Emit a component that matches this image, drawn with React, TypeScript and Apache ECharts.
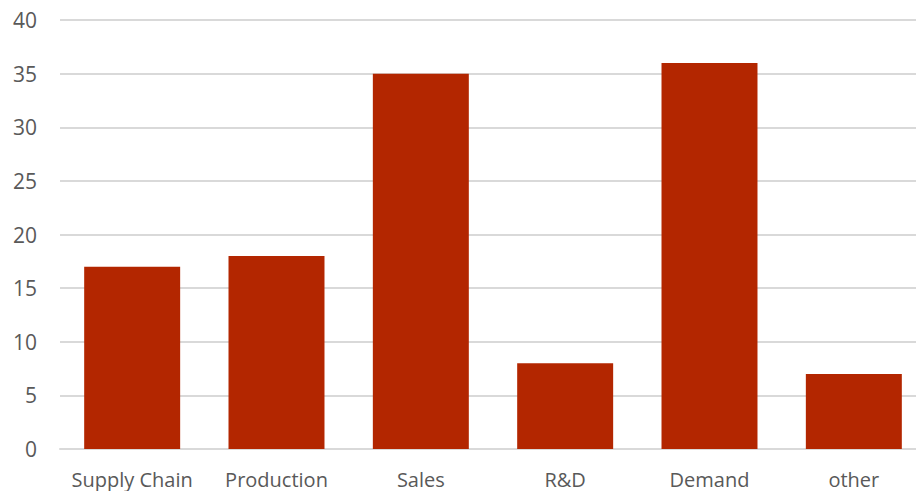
import React, { useEffect, useRef } from "react";
import * as echarts from "echarts";

const categories = ["Supply Chain", "Production", "Sales", "R&D", "Demand", "other"];
const values = [17, 18, 35, 8, 36, 7];
const yTicks = { min: 0, max: 40, interval: 5 };

export default function App() {
  const ref = useRef<HTMLDivElement>(null);
  useEffect(() => {
    const chart = echarts.init(ref.current!, null, { renderer: "svg" });
    chart.setOption({
      animation: false,
      backgroundColor: "#ffffff",
      grid: { left: 60, top: 20, right: 0, height: 429, containLabel: false },
      xAxis: {
        type: "category",
        data: categories,
        axisLine: { show: true, lineStyle: { color: "#d9d9d9", width: 2 } },
        axisTick: { show: false },
        axisLabel: { interval: 0, hideOverlap: false, color: "#595959", fontSize: 20, fontFamily: "Open Sans", margin: 20 },
      },
      yAxis: {
        type: "value",
        min: yTicks.min,
        max: yTicks.max,
        interval: yTicks.interval,
        axisLine: { show: false },
        axisTick: { show: false },
        splitLine: { lineStyle: { color: "#d9d9d9", width: 2 } },
        axisLabel: { color: "#595959", fontSize: 21, fontFamily: "Open Sans", margin: 23 },
      },
      series: [
        {
          type: "bar",
          data: values,
          barWidth: "66.5%",
          itemStyle: { color: "#b32600" },
        },
      ],
    });
    return () => chart.dispose();
  }, []);
  return (
    <div style={{ position: "absolute", left: 0, top: 0, width: 916, height: 491, overflow: "hidden", background: "#fff" }}>
      <div ref={ref} style={{ width: 926, height: 491 }} />
    </div>
  );
}
